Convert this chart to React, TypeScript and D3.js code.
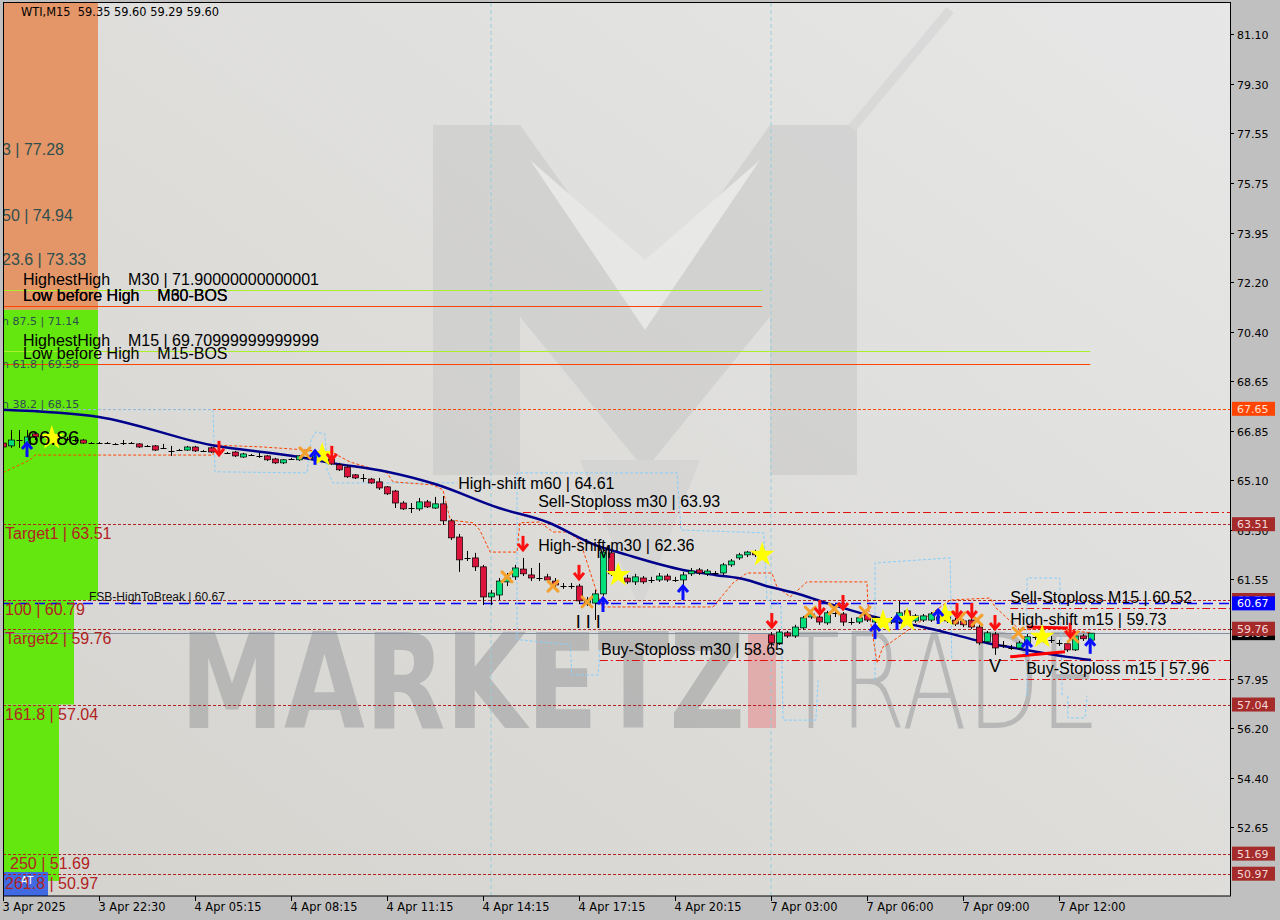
import * as d3 from 'd3';
import { useEffect, useRef } from 'react';

// price axis ticks as printed by the terminal
const priceTicks = [81.1, 79.3, 77.55, 75.75, 73.95, 72.2, 70.4, 68.65, 66.85, 65.1, 63.3, 61.55, 59.75, 57.95, 56.2, 54.4, 52.65];

// bar index -> label
const timeTicks: [number, string][] = [
    [0, '3 Apr 2025'], [12, '3 Apr 22:30'], [24, '4 Apr 05:15'], [36, '4 Apr 08:15'],
    [48, '4 Apr 11:15'], [60, '4 Apr 14:15'], [72, '4 Apr 17:15'], [84, '4 Apr 20:15'],
    [96, '7 Apr 03:00'], [108, '7 Apr 06:00'], [120, '7 Apr 09:00'], [132, '7 Apr 12:00'],
];

const separators = [61, 96];

// WTI M15 candles: open, high, low, close
const candles: [number, number, number, number][] = [
    [66.42, 66.5, 66.21, 66.28], [66.32, 66.89, 66.25, 66.53], [66.53, 66.89, 66.25, 66.5], [66.32, 66.89, 66.25, 66.64],
    [66.75, 66.82, 66.53, 66.64], [66.68, 66.75, 66.6, 66.66], [66.64, 66.71, 66.57, 66.62], [66.6, 66.68, 66.53, 66.58],
    [66.57, 66.64, 66.5, 66.55], [66.53, 66.6, 66.46, 66.51], [66.53, 66.57, 66.39, 66.42], [66.42, 66.46, 66.39, 66.43],
    [66.43, 66.46, 66.39, 66.42], [66.42, 66.46, 66.39, 66.42], [66.4, 66.42, 66.35, 66.39], [66.42, 66.53, 66.35, 66.43],
    [66.43, 66.46, 66.39, 66.42], [66.39, 66.42, 66.25, 66.28], [66.32, 66.35, 66.28, 66.31], [66.32, 66.35, 66.14, 66.17],
    [66.25, 66.39, 66.21, 66.24], [66.14, 66.32, 65.96, 66.15], [66.17, 66.21, 66.14, 66.18], [66.17, 66.32, 66.14, 66.28],
    [66.28, 66.32, 66.1, 66.14], [66.14, 66.17, 66.1, 66.13], [66.25, 66.28, 66.07, 66.1], [66.1, 66.14, 66.07, 66.09],
    [66.07, 66.1, 66.03, 66.06], [66.1, 66.14, 65.92, 65.96], [65.92, 66.07, 65.89, 66.03], [65.99, 66.03, 65.96, 65.98],
    [65.96, 66.07, 65.89, 65.95], [65.96, 65.99, 65.78, 65.82], [65.85, 65.89, 65.67, 65.71], [65.71, 65.85, 65.67, 65.82],
    [65.85, 65.89, 65.82, 65.86], [65.82, 65.99, 65.78, 65.96], [65.92, 65.96, 65.89, 65.93], [65.89, 66.03, 65.85, 65.99],
    [65.89, 65.92, 65.85, 65.88], [65.85, 65.89, 65.64, 65.67], [65.64, 65.71, 65.42, 65.46], [65.56, 65.64, 65.17, 65.21],
    [65.28, 65.31, 65.13, 65.17], [65.17, 65.31, 65.03, 65.16], [65.13, 65.17, 64.96, 64.99], [65.03, 65.17, 64.74, 64.81],
    [64.85, 64.88, 64.56, 64.6], [64.7, 64.74, 64.09, 64.27], [64.27, 64.34, 64.02, 64.06], [64.09, 64.27, 63.91, 64.08],
    [64.06, 64.45, 63.99, 64.31], [64.31, 64.38, 64.09, 64.13], [64.09, 64.49, 64.06, 64.24], [64.24, 64.52, 63.48, 63.63],
    [63.63, 63.7, 62.94, 63.02], [63.05, 63.16, 61.8, 62.23], [62.3, 62.55, 62.19, 62.28], [62.3, 62.48, 61.83, 61.98],
    [61.98, 62.05, 60.61, 60.9], [60.9, 61.15, 60.61, 61.04], [60.97, 61.58, 60.79, 61.47], [61.44, 61.76, 61.29, 61.58],
    [61.62, 62.05, 61.51, 61.94], [61.9, 62.3, 61.65, 61.73], [61.69, 61.94, 61.47, 61.58], [61.58, 62.12, 61.47, 61.57],
    [61.62, 61.73, 61.44, 61.51], [61.47, 61.58, 61.15, 61.33], [61.29, 61.4, 61.19, 61.3], [61.3, 61.4, 61.19, 61.29],
    [61.29, 61.37, 60.65, 60.76], [60.68, 60.9, 60.58, 60.79], [60.68, 61.15, 60.07, 61.01], [61.01, 62.66, 60.94, 62.51],
    [62.48, 62.55, 61.65, 61.73], [61.73, 61.8, 61.55, 61.62], [61.58, 61.69, 61.37, 61.44], [61.44, 61.73, 61.33, 61.62],
    [61.58, 61.65, 61.37, 61.44], [61.51, 61.62, 61.4, 61.5], [61.51, 61.76, 61.44, 61.65], [61.65, 61.73, 61.44, 61.51],
    [61.51, 61.62, 61.44, 61.5], [61.51, 61.8, 61.33, 61.69], [61.73, 61.94, 61.65, 61.83], [61.87, 61.94, 61.69, 61.76],
    [61.73, 61.9, 61.65, 61.83], [61.76, 61.83, 61.69, 61.75], [61.76, 62.12, 61.69, 62.05], [62.05, 62.26, 61.98, 62.19],
    [62.3, 62.48, 62.23, 62.41], [62.41, 62.55, 62.33, 62.51], [62.51, 62.59, 62.33, 62.41], [62.44, 62.51, 62.23, 62.33],
    [59.54, 59.64, 59.11, 59.25], [59.25, 59.72, 59.18, 59.64], [59.61, 59.68, 59.43, 59.5], [59.5, 59.9, 59.43, 59.82],
    [59.79, 60.22, 59.72, 60.15], [60.18, 60.36, 60.11, 60.29], [60.18, 60.29, 59.9, 60.0], [59.97, 60.4, 59.9, 60.33],
    [60.33, 60.43, 60.18, 60.32], [60.29, 60.36, 59.86, 60.0], [60.0, 60.15, 59.9, 60.01], [60.0, 60.22, 59.93, 60.15],
    [60.26, 60.33, 60.0, 60.07], [60.0, 60.22, 59.93, 60.15], [60.07, 60.18, 59.97, 60.06], [60.0, 60.18, 59.93, 60.11],
    [60.0, 60.76, 59.93, 60.33], [60.4, 60.47, 60.0, 60.07], [60.04, 60.29, 59.97, 60.22], [60.07, 60.29, 60.0, 60.22],
    [60.07, 60.36, 60.0, 60.29], [60.07, 60.29, 60.0, 60.18], [60.18, 60.26, 59.97, 60.04], [60.07, 60.15, 59.86, 59.93],
    [60.04, 60.11, 59.82, 59.9], [60.07, 60.15, 59.75, 59.82], [59.82, 59.9, 59.18, 59.25], [59.29, 59.68, 59.22, 59.61],
    [59.57, 59.64, 58.82, 59.07], [59.18, 59.32, 59.07, 59.17], [59.07, 59.18, 59.0, 59.06], [59.07, 59.32, 59.0, 59.25],
    [59.25, 59.57, 59.18, 59.47], [59.47, 59.57, 59.36, 59.46], [59.32, 59.5, 59.25, 59.43], [59.36, 59.5, 59.25, 59.37],
    [59.25, 59.36, 59.14, 59.24], [59.22, 59.29, 58.93, 59.0], [59.0, 59.57, 58.96, 59.5], [59.5, 59.57, 59.32, 59.4],
    [59.35, 59.6, 59.29, 59.6],
];

// moving average (bar index, price)
const maLine: [number, number][] = [
    [0, 67.62], [12, 67.36], [26, 66.35], [37, 65.92], [41, 65.71], [48, 65.39], [54, 64.95], [62, 64.09],
    [68, 63.59], [74, 62.77], [78, 62.41], [85, 61.87], [89, 61.69], [93, 61.51], [95, 61.33], [99, 61.04],
    [103, 60.68], [109, 60.18], [115, 59.82], [119, 59.54], [123, 59.25], [127, 59.04], [133, 58.75], [136, 58.64],
];

// thin orange trailing line
const trailLine: [number, number][] = [
    [0, 65.36], [3.4, 65.82], [4, 65.99], [26.25, 65.99], [26.4, 66.35], [32.5, 66.28], [38, 66.17], [41.25, 66.07],
    [43.4, 65.74], [45.5, 65.56], [48, 65.35], [48.75, 65.03], [53.75, 64.92], [55, 64.74], [55.9, 63.66], [58.75, 63.56],
    [59.6, 63.3], [60.9, 62.51], [64.25, 62.51], [64.6, 63.56], [67.1, 63.59], [68.75, 63.23], [70.5, 63.23], [72.1, 62.94],
    [74.25, 61.04], [74.9, 60.54], [88.75, 60.54], [91.25, 61.4], [93, 61.76], [96.1, 61.76], [96.75, 61.26], [98.4, 60.9],
    [100.5, 61.44], [108, 61.44], [108.1, 60.68], [109.25, 58.53], [110, 59.11], [110.9, 59.25], [118.4, 60.79],
    [123.4, 60.86], [124, 60.54], [127.1, 59.72], [131, 59.79], [135.9, 59.61],
];

// light blue dashed envelopes
const envelopes: [number, number][][] = [
    [[0, 67.62], [26.25, 67.62], [26.5, 65.39], [38, 65.35], [38.5, 66.53], [39.1, 66.82], [40.25, 66.75], [40.5, 65.46], [41.25, 64.99], [56.75, 64.99]],
    [[64.25, 59.36], [64.25, 65.35], [84.25, 65.35], [84.75, 63.3], [95.1, 63.2], [95.5, 60.79], [97.25, 60.61], [97.5, 56.48], [101.6, 56.48], [101.9, 57.91]],
    [[64.6, 59.36], [70.9, 59.18], [71.1, 58.1], [74.4, 58.1], [74.6, 59.0]],
    [[109, 57.92], [109, 62.12], [118.4, 62.3], [118.6, 58.64]],
    [[128, 57.35], [128, 61.58], [132.1, 61.58], [132.4, 57.35]],
    [[133.1, 57.35], [133.1, 56.56], [135.25, 56.56], [135.5, 57.35]],
];

const sellArrows: [number, number][] = [[27, 66.25], [41.1, 66.07], [65, 62.84], [72, 61.8], [96.1, 60.07], [102.1, 60.54], [105, 60.72], [119.25, 60.43], [121.1, 60.43], [124, 60.0], [133.4, 59.72]];
const buyArrows: [number, number][] = [[3, 66.17], [39, 65.89], [75, 60.61], [85, 61.04], [109, 59.64], [111.75, 59.97], [116.9, 60.18], [128, 59.07], [135.9, 59.11]];
const crossMarks: [number, number][] = [[37.75, 66.07], [63, 61.62], [68.75, 61.29], [73, 60.72], [100.9, 60.36], [103.9, 60.47], [107.75, 60.36], [119.6, 60.15], [121.75, 60.07], [126.9, 59.61], [133.75, 59.47]];
const starMarks: [number, number][] = [[6.1, 66.6], [39.9, 65.99], [76.9, 61.69], [94.9, 62.41], [110, 60.0], [113, 60.07], [117.75, 60.25], [129.9, 59.47]];

// red wedge lines at the end
const wedgeLines: [number, number, number, number][] = [[125.9, 58.75, 132.75, 58.93], [128, 59.82, 133.1, 59.79]];

// fib zones: index from, index to, price top, price bottom
const orangeZones: [number, number, number, number][] = [[0, 11.875, 82.21, 71.2]];
const greenZones: [number, number, number, number][] = [[0, 11.875, 71.2, 60.79], [0, 8.875, 60.79, 57.04], [0, 7, 57.04, 50.71]];
const blueZones: [number, number, number, number][] = [[0, 5.625, 51.03, 50.17]];

const upperFibLabels: [string, number][] = [['3 | 77.28', 77.28], ['50 | 74.94', 74.94], ['23.6 | 73.33', 73.33]];
const smallFibLabels: [string, number][] = [['h 87.5 | 71.14', 71.14], ['h 61.8 | 69.58', 69.58], ['h 38.2 | 68.15', 68.15]];
const lowerFibLabels: [string, number][] = [['Target1 | 63.51', 63.51], ['100 | 60.79', 60.79], ['Target2 | 59.76', 59.76], ['161.8 | 57.04', 57.04], ['250 | 51.69', 51.69], ['261.8 | 50.97', 50.97]];

const fibDashed = [63.51, 60.79, 59.76, 57.04, 51.69, 50.97];
const highLines: [number, number][] = [[71.9, 94.9], [69.71, 135.9]];
const bosLines: [number, number][] = [[71.34, 94.9], [69.26, 135.9]];
const stopLines: [number, number][] = [[63.93, 65], [60.52, 125.9], [58.65, 74.6], [57.96, 125.9]];
const resistance = 67.65;
const breakLevel = 60.67;
const lastPrice = 59.6;

// black annotations: text, bar index, price
const notes: [string, number, number][] = [
    ['HighestHigh    M30 | 71.90000000000001', 2.5, 71.9],
    ['Low before High    M30-BOS', 2.5, 71.34],
    ['Low before High    M60-BOS', 2.5, 71.34],
    ['HighestHigh    M15 | 69.70999999999999', 2.5, 69.71],
    ['Low before High    M15-BOS', 2.5, 69.26],
    ['High-shift m60 | 64.61', 56.9, 64.61],
    ['Sell-Stoploss m30 | 63.93', 66.9, 63.93],
    ['High-shift m30 | 62.36', 66.9, 62.36],
    ['Sell-Stoploss M15 | 60.52', 125.9, 60.52],
    ['High-shift m15 | 59.73', 125.9, 59.73],
    ['Buy-Stoploss m30 | 58.65', 74.75, 58.65],
    ['Buy-Stoploss m15 | 57.96', 127.9, 57.96],
];

const axisBoxes: [number, string][] = [
    [67.65, '#ff4500'], [63.51, '#a52a2a'], [60.79, '#a52a2a'], [60.67, '#0000ff'],
    [59.6, '#000000'], [59.76, '#a52a2a'], [57.04, '#a52a2a'], [51.69, '#a52a2a'], [50.97, '#a52a2a'],
];

export default function App() {
    const svgRef = useRef<SVGSVGElement>(null);

    useEffect(() => {
        if (!svgRef.current) return;
        document.body.style.margin = '0';

        const width = 1280;
        const height = 920;
        const L = 3, T = 3, R = 1230, B = 896;
        const sans = 'Liberation Sans, Arial, sans-serif';
        const axisFont = 'DejaVu Sans, Tahoma, sans-serif';

        const svg = d3.select(svgRef.current).attr('width', width).attr('height', height);
        svg.selectAll('*').remove();

        const x = d3.scaleLinear().domain([0, (R - L) / 8]).range([L, R]);
        const y = d3.scaleLinear().domain([50.17, 82.21]).range([B, T]);

        const defs = svg.append('defs');
        const grad = defs.append('linearGradient').attr('id', 'bg').attr('x1', 0).attr('y1', 1).attr('x2', 1).attr('y2', 0);
        grad.append('stop').attr('offset', '0%').attr('stop-color', '#d4d3ce');
        grad.append('stop').attr('offset', '100%').attr('stop-color', '#e7e7e7');
        defs.append('clipPath').attr('id', 'plot').append('rect').attr('x', L).attr('y', T).attr('width', R - L).attr('height', B - T);

        svg.append('rect').attr('width', width).attr('height', height).attr('fill', '#c0c0c0');
        svg.append('rect').attr('x', L).attr('y', T).attr('width', R - L).attr('height', B - T).attr('fill', 'url(#bg)');

        const g = svg.append('g').attr('clip-path', 'url(#plot)');

        // watermark logo
        const wm = g.append('g').attr('fill', '#c6c6c6').attr('opacity', 0.5);
        wm.append('rect').attr('x', 433).attr('y', 125).attr('width', 87).attr('height', 350);
        wm.append('rect').attr('x', 770).attr('y', 125).attr('width', 87).attr('height', 350);
        wm.append('polygon').attr('points', '433,125 520,125 645,300 770,125 857,125 857,210 645,470 433,210');
        wm.append('polygon').attr('points', '580,460 700,460 640,610').attr('fill', '#cfcfcf');
        wm.append('polygon').attr('points', '530,160 645,330 760,160 645,260').attr('fill', '#f0f0f0');
        wm.append('line').attr('x1', 852).attr('y1', 128).attr('x2', 950).attr('y2', 10).attr('stroke', '#d0d0d0').attr('stroke-width', 9);

        g.append('text').attr('x', 180).attr('y', 728).attr('font-family', 'DejaVu Sans, sans-serif').attr('font-weight', 'bold')
            .attr('font-size', 132).attr('textLength', 565).attr('lengthAdjust', 'spacingAndGlyphs').attr('fill', '#b2b2b2').attr('opacity', 0.85).text('MARKETZ');
        g.append('rect').attr('x', 748).attr('y', 633).attr('width', 28).attr('height', 95).attr('fill', '#e2a3a3').attr('opacity', 0.85);
        g.append('text').attr('x', 782).attr('y', 728).attr('font-family', 'DejaVu Sans, sans-serif').attr('font-weight', 200)
            .attr('font-size', 132).attr('textLength', 318).attr('lengthAdjust', 'spacingAndGlyphs').attr('fill', '#b8b8b8').text('TRADE');

        // fib zones
        const zone = (zs: [number, number, number, number][], fill: string) =>
            g.append('g').selectAll('rect').data(zs).join('rect')
                .attr('x', (d) => x(d[0])).attr('width', (d) => x(d[1]) - x(d[0]))
                .attr('y', (d) => y(d[2])).attr('height', (d) => y(d[3]) - y(d[2])).attr('fill', fill);
        zone(orangeZones, '#e49668');
        zone(greenZones, '#64e60f');
        zone(blueZones, '#4169e1');
        g.append('text').attr('x', x(2.2)).attr('y', y(50.6)).attr('font-family', sans).attr('font-size', 11).attr('fill', '#fff').text('AT');

        // period separators
        g.selectAll('.sep').data(separators).join('line')
            .attr('x1', (d) => x(d)).attr('x2', (d) => x(d)).attr('y1', T).attr('y2', B)
            .attr('stroke', '#96cfd9').attr('stroke-dasharray', '4,3');

        // horizontal levels
        const hline = (v: number, from: number, to: number, color: string, dash: string | null, w = 1) =>
            g.append('line').attr('x1', x(from)).attr('x2', x(to)).attr('y1', Math.round(y(v)) + 0.5).attr('y2', Math.round(y(v)) + 0.5)
                .attr('stroke', color).attr('stroke-width', w).attr('stroke-dasharray', dash);
        const xEnd = (R - L) / 8;
        highLines.forEach(([v, to]) => hline(v, 0, to, '#a8f02a', null));
        bosLines.forEach(([v, to]) => hline(v, 0, to, '#ff4500', null));
        hline(resistance, 0, xEnd, '#ff4500', '3,2');
        fibDashed.forEach((v) => hline(v, 0, xEnd, '#b22222', '3,2'));
        stopLines.forEach(([v, from]) => hline(v, from, xEnd, '#e01010', '8,3,2,3'));
        hline(breakLevel, 0, xEnd, '#0000ff', '10,6', 1.3);
        hline(lastPrice, 0, xEnd, '#8090a0', null);

        // envelopes and trailing line
        const line = d3.line<[number, number]>().x((d) => x(d[0])).y((d) => y(d[1]));
        g.append('g').selectAll('path').data(envelopes).join('path').attr('d', (d) => line(d))
            .attr('fill', 'none').attr('stroke', '#87cefa').attr('stroke-dasharray', '3,2');
        g.append('path').attr('d', line(trailLine)).attr('fill', 'none').attr('stroke', '#ff4500').attr('stroke-dasharray', '3,2');

        // moving average
        const maPath = d3.line<[number, number]>().x((d) => x(d[0])).y((d) => y(d[1])).curve(d3.curveMonotoneX);
        g.append('path').attr('d', maPath(maLine)).attr('fill', 'none').attr('stroke', '#00008b').attr('stroke-width', 2.5);

        // candles
        const cg = g.append('g');
        candles.forEach(([o, h, l, c], i) => {
            const cx = Math.round(x(i)) + 0.5;
            cg.append('line').attr('x1', cx).attr('x2', cx).attr('y1', y(h)).attr('y2', y(l)).attr('stroke', '#000');
            const top = y(Math.max(o, c));
            const bot = y(Math.min(o, c));
            if (bot - top < 1.6) {
                cg.append('line').attr('x1', cx - 3).attr('x2', cx + 3).attr('y1', Math.round(top) + 0.5).attr('y2', Math.round(top) + 0.5).attr('stroke', '#000');
            } else {
                cg.append('rect').attr('x', cx - 3).attr('y', top).attr('width', 6).attr('height', bot - top)
                    .attr('fill', c > o ? '#00e07a' : '#dc143c').attr('stroke', '#000').attr('stroke-width', 0.7);
            }
        });

        // wedge lines
        g.selectAll('.wedge').data(wedgeLines).join('line')
            .attr('x1', (d) => x(d[0])).attr('y1', (d) => y(d[1])).attr('x2', (d) => x(d[2])).attr('y2', (d) => y(d[3]))
            .attr('stroke', '#ff0000').attr('stroke-width', 3);

        // markers
        const star = d3.symbol().type(d3.symbolStar).size(190);
        g.append('g').selectAll('path').data(starMarks).join('path')
            .attr('transform', (d) => `translate(${x(d[0])},${y(d[1])})`).attr('d', star()).attr('fill', '#ffff00');
        const xs = g.append('g').attr('stroke', '#f4a12e').attr('stroke-width', 3).attr('stroke-linecap', 'round');
        crossMarks.forEach(([i, v]) => {
            const cx = x(i), cy = y(v);
            xs.append('line').attr('x1', cx - 5).attr('y1', cy - 5).attr('x2', cx + 5).attr('y2', cy + 5);
            xs.append('line').attr('x1', cx - 5).attr('y1', cy + 5).attr('x2', cx + 5).attr('y2', cy - 5);
        });
        const arrow = (cx: number, cy: number, dir: number, color: string) => {
            const ag = g.append('g').attr('stroke', color).attr('fill', 'none').attr('stroke-width', 3);
            ag.append('line').attr('x1', cx).attr('x2', cx).attr('y1', cy - 7 * dir).attr('y2', cy + 6 * dir);
            ag.append('path').attr('d', `M${cx - 5},${cy + 1 * dir} L${cx},${cy + 7 * dir} L${cx + 5},${cy + 1 * dir}`);
        };
        sellArrows.forEach(([i, v]) => arrow(x(i), y(v), 1, '#ff1010'));
        buyArrows.forEach(([i, v]) => arrow(x(i), y(v), -1, '#0a10ff'));

        // structure letters
        g.append('text').attr('x', x(71.6)).attr('y', y(59.6) - 5).attr('font-family', sans).attr('font-size', 18)
            .attr('letter-spacing', 5).attr('fill', '#000').text('III');
        g.append('text').attr('x', x(124)).attr('y', y(58.2)).attr('text-anchor', 'middle').attr('font-family', sans).attr('font-size', 18).attr('fill', '#000').text('V');
        g.append('text').attr('x', x(75.1)).attr('y', y(62.3)).attr('text-anchor', 'middle').attr('font-family', sans).attr('font-size', 18).attr('fill', '#000').text('M');
        g.append('text').attr('x', x(3)).attr('y', y(66.86) + 14).attr('font-family', sans).attr('font-size', 21).attr('fill', '#000').text('66.86');

        // fib labels
        upperFibLabels.forEach(([t, v]) => g.append('text').attr('x', 2).attr('y', y(v) + 15).attr('font-family', sans).attr('font-size', 16).attr('fill', '#2f4f4f').text(t));
        smallFibLabels.forEach(([t, v]) => g.append('text').attr('x', 2).attr('y', y(v) + 13).attr('font-family', axisFont).attr('font-size', 11).attr('fill', '#2f4f4f').text(t));
        lowerFibLabels.forEach(([t, v]) => g.append('text').attr('x', t.startsWith('250') ? 10 : 5).attr('y', y(v) + 15)
            .attr('font-family', sans).attr('font-size', 16).attr('fill', '#b22222').text(t));
        g.append('text').attr('x', x(10.75)).attr('y', y(breakLevel) - 2).attr('font-family', sans).attr('font-size', 12).attr('fill', '#111').text('FSB-HighToBreak | 60.67');

        notes.forEach(([t, i, v]) => g.append('text').attr('x', x(i)).attr('y', y(v) - 5).attr('font-family', sans).attr('font-size', 16)
            .attr('fill', '#000').style('white-space', 'pre').text(t));

        // header
        svg.append('text').attr('x', 21).attr('y', 16).attr('font-family', axisFont).attr('font-size', 11.4).attr('fill', '#000')
            .style('white-space', 'pre').text('WTI,M15  59.35 59.60 59.29 59.60');

        // frame
        svg.append('rect').attr('x', L + 0.5).attr('y', T - 0.5).attr('width', R - L).attr('height', B - T + 0.5).attr('fill', 'none').attr('stroke', '#000');

        // price axis
        const pa = svg.append('g');
        priceTicks.forEach((v) => {
            const yy = Math.round(y(v)) + 0.5;
            pa.append('line').attr('x1', R).attr('x2', R + 4).attr('y1', yy).attr('y2', yy).attr('stroke', '#000');
            pa.append('text').attr('x', R + 7).attr('y', yy + 4).attr('font-family', axisFont).attr('font-size', 11).attr('fill', '#000').text(v.toFixed(2));
        });
        axisBoxes.forEach(([v, c]) => {
            const yy = y(v);
            pa.append('rect').attr('x', R + 2).attr('y', yy - 7).attr('width', 43).attr('height', 14).attr('fill', c);
            pa.append('text').attr('x', R + 7).attr('y', yy + 4).attr('font-family', axisFont).attr('font-size', 11)
                .attr('fill', c === '#0000ff' ? '#fff' : c === '#ff4500' ? '#ffe2d4' : '#f3d6d6').text(v.toFixed(2));
        });

        // time axis
        const ta = svg.append('g');
        timeTicks.forEach(([i, t]) => {
            const xx = Math.round(x(i)) + 0.5;
            ta.append('line').attr('x1', xx).attr('x2', xx).attr('y1', B).attr('y2', B + 5).attr('stroke', '#000');
            ta.append('text').attr('x', xx - 1).attr('y', B + 15).attr('font-family', axisFont).attr('font-size', 11.4).attr('fill', '#000').text(t);
        });
    }, []);

    return <svg ref={svgRef} style={{ display: 'block' }} />;
}
